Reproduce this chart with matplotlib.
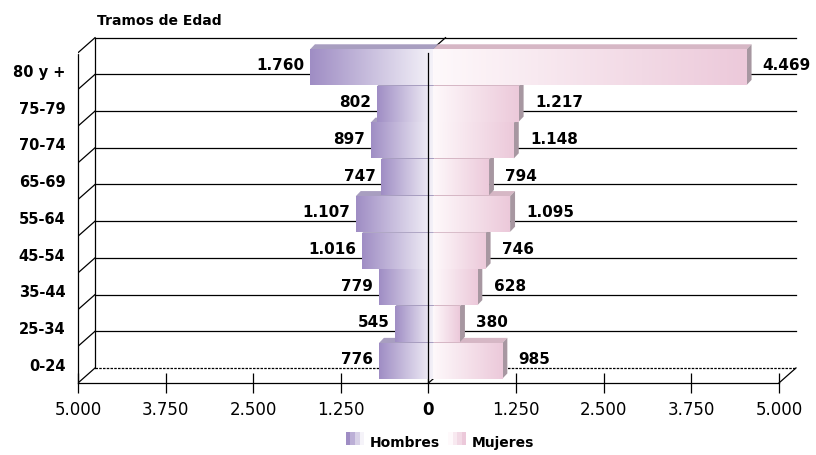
"""Pirámide de población por tramos de edad (barras pseudo-3D con degradado)."""

import matplotlib
matplotlib.use("Agg")
import matplotlib.pyplot as plt
import numpy as np
from matplotlib.colors import LinearSegmentedColormap
from matplotlib.legend_handler import HandlerBase
from matplotlib.patches import Polygon, Rectangle

categorias = ["0-24", "25-34", "35-44", "45-54", "55-64", "65-69", "70-74", "75-79", "80 y +"]
hombres = [776, 545, 779, 1016, 1107, 747, 897, 802, 1760]
mujeres = [985, 380, 628, 746, 1095, 794, 1148, 1217, 4469]
ticks = [-5000, -3750, -2500, -1250, 0, 1250, 2500, 3750, 5000]
tick_labels = ["5.000", "3.750", "2.500", "1.250", "0", "1.250", "2.500", "3.750", "5.000"]

FONT = "DejaVu Sans"
plt.rcParams["font.family"] = [FONT]

# colores
H_OUT, H_IN = "#9f8dc4", "#f5f3f9"
M_IN, M_OUT = "#fef9fb", "#ecc9da"
H_TOP, M_TOP, M_SIDE = "#a89ec0", "#d6b7c5", "#a797a1"

# geometria 3D en unidades de datos
DX, DY = 243, 0.41        # profundidad de la caja
BX, BY0, BH = 70, 0.12, 0.97   # cara frontal de las barras
TX, TY = 70, 0.14         # profundidad de las barras

fmt = lambda v: f"{v:,}".replace(",", ".")

fig = plt.figure(figsize=(8.16, 4.55), dpi=100)
ax = fig.add_axes([78 / 816, 72 / 455, (807 - 78) / 816, (424.3 - 72) / 455])
n = len(categorias)

# pared de fondo y pared izquierda
for k in range(n + 1):
    ls = (0, (2, 1)) if k == 0 else "-"
    ax.plot([-5000 + DX, 5000 + DX], [k + DY, k + DY], color="black", lw=0.9, ls=ls, zorder=1)
    ax.plot([-5000, -5000 + DX], [k, k + DY], color="black", lw=0.9, zorder=1)
ax.plot([-5000 + DX, -5000 + DX], [DY, n + DY], color="black", lw=0.9, zorder=1)
ax.plot([5000, 5000 + DX], [0, DY], color="black", lw=0.9, zorder=1)
ax.plot([0, DX], [n, n + DY], color="black", lw=0.9, zorder=1)
ax.plot([0, DX], [0, DY], color="black", lw=0.9, zorder=1)


def grad_rect(x0, x1, y0, y1, c0, c1, z):
    cmap = LinearSegmentedColormap.from_list("g", [c0, c1])
    ax.imshow(np.linspace(0, 1, 256).reshape(1, -1), cmap=cmap, aspect="auto",
              extent=(x0, x1, y0, y1), interpolation="bilinear", zorder=z)


for i, (h, m) in enumerate(zip(hombres, mujeres)):
    z = 2 + i * 0.1
    y0 = i + BY0
    y1 = y0 + BH
    # caras superiores
    ax.add_patch(Polygon([(-h + BX, y1), (BX, y1), (BX + TX, y1 + TY), (-h + BX + TX, y1 + TY)],
                         closed=True, fc=H_TOP, ec="none", zorder=z))
    ax.add_patch(Polygon([(BX, y1), (BX + m, y1), (BX + m + TX, y1 + TY), (BX + TX, y1 + TY)],
                         closed=True, fc=M_TOP, ec="none", zorder=z))
    # cara lateral mujeres
    ax.add_patch(Polygon([(BX + m, y0), (BX + m, y1), (BX + m + TX, y1 + TY), (BX + m + TX, y0 + TY)],
                         closed=True, fc=M_SIDE, ec="none", zorder=z))
    # caras frontales con degradado
    grad_rect(-h + BX, BX, y0, y1, H_OUT, H_IN, z + 0.01)
    grad_rect(BX, BX + m, y0, y1, M_IN, M_OUT, z + 0.01)
    # etiquetas de valor
    ax.text(-h + BX - 80, i + 0.64, fmt(h), ha="right", va="center",
            fontsize=11, fontweight="bold", zorder=5)
    ax.text(BX + m + TX + 160, i + 0.64, fmt(m), ha="left", va="center",
            fontsize=11, fontweight="bold", zorder=5)

# linea central por encima de las barras
ax.plot([0, 0], [0, n], color="black", lw=0.9, zorder=4)

# ejes
ax.set_xlim(-5000, 5400)
ax.set_ylim(0, 9.6)
for s in ["top", "right"]:
    ax.spines[s].set_visible(False)
ax.spines["bottom"].set_bounds(-5000, 5000)
ax.spines["left"].set_bounds(0, n)
ax.spines["left"].set_linestyle((0, (2, 1)))
ax.spines["left"].set_linewidth(0.9)
ax.spines["bottom"].set_linewidth(0.9)
ax.set_xticks(ticks)
ax.set_xticklabels(tick_labels, fontsize=12)
ax.tick_params(axis="x", direction="inout", length=14, width=0.9, pad=6)
ax.get_xticklabels()[4].set_fontweight("bold")
ax.set_yticks(np.arange(n) + 0.5)
ax.set_yticklabels(categorias, fontsize=10.5, fontweight="bold")
ax.tick_params(axis="y", length=0, pad=9)

fig.text(97 / 816, 1 - 21 / 455, "Tramos de Edad", ha="left", va="center",
         fontsize=10, fontweight="bold")


class GradHandler(HandlerBase):
    def __init__(self, colors):
        super().__init__()
        self.colors = colors

    def create_artists(self, legend, orig, xd, yd, w, h, fs, trans):
        k = len(self.colors)
        return [Rectangle((xd + j * w / k, yd), w / k, h, fc=c, ec="none", transform=trans)
                for j, c in enumerate(self.colors)]


h_cols = [LinearSegmentedColormap.from_list("a", [H_OUT, H_IN])(t) for t in np.linspace(0, 1, 4)]
m_cols = [LinearSegmentedColormap.from_list("b", [M_IN, M_OUT])(t) for t in np.linspace(0, 1, 4)]
ph, pm = Rectangle((0, 0), 1, 1), Rectangle((0, 0), 1, 1)
fig.legend([ph, pm], ["Hombres", "Mujeres"], loc="center", bbox_to_anchor=(440 / 816, 1 - 443 / 455),
           ncol=2, frameon=False, handlelength=1.3, handleheight=1.1, handletextpad=0.4,
           columnspacing=0.6, prop={"size": 10, "weight": "bold"},
           handler_map={ph: GradHandler(h_cols), pm: GradHandler(m_cols)})

fig.savefig("out.png", dpi=100)
